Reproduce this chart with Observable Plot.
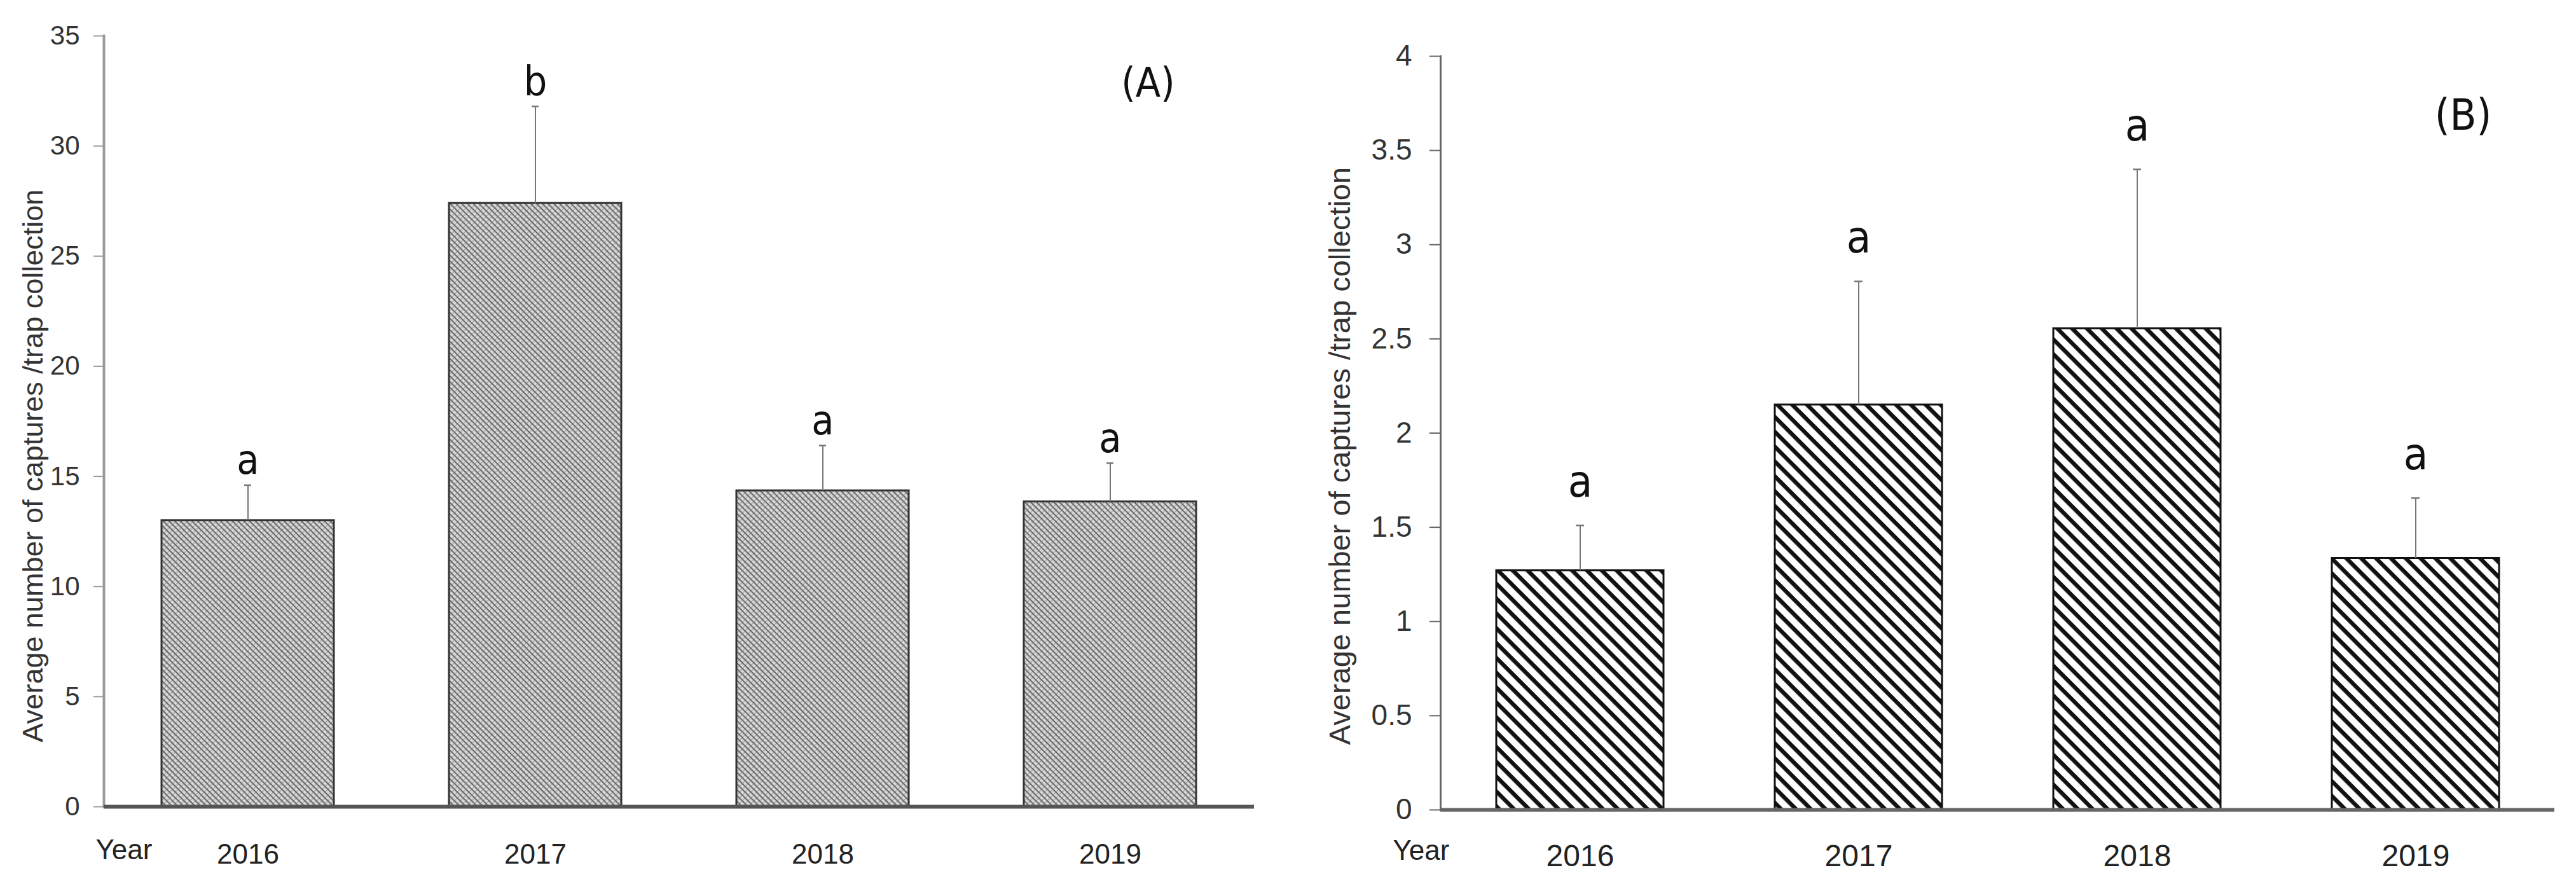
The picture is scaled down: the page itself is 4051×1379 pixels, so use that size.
<!DOCTYPE html>
<html>
<head>
<meta charset="utf-8">
<script src="https://cdn.jsdelivr.net/npm/d3@7"></script>
<script src="https://cdn.jsdelivr.net/npm/@observablehq/plot@0.6"></script>
<style>
  html, body { margin: 0; padding: 0; background: #fff; }
  #wrap { display: flex; width: 4051px; height: 1379px; }
  #wrap svg { display: block; }
</style>
</head>
<body>
<div id="wrap"></div>
<script>
// ---- data ----
const years = ["2016", "2017", "2018", "2019"];
const meanA = [13.0, 27.4, 14.35, 13.85];
const seA = [1.6, 4.4, 2.05, 1.75];
const lettersA = ["a", "b", "a", "a"];
const meanB = [1.27, 2.15, 2.555, 1.335];
const seB = [0.24, 0.655, 0.845, 0.32];
const lettersB = ["a", "a", "a", "a"];
const yTicksA = [0, 5, 10, 15, 20, 25, 30, 35];
const yTicksB = [0, 0.5, 1, 1.5, 2, 2.5, 3, 3.5, 4];
const yTitle = "Average number of captures /trap collection";
const xTitle = "Year";
const panelLabelA = "(A)";
const panelLabelB = "(B)";

const SANS = "'Liberation Sans', Arial, Helvetica, sans-serif";
const NARROW = "'Liberation Sans Narrow', 'Arial Narrow', 'DejaVu Sans Condensed', sans-serif";

function rows(means, ses, letters) {
  return years.map((y, i) => ({year: y, mean: means[i], se: ses[i], top: means[i] + ses[i], letter: letters[i]}));
}

function panel(o) {
  const data = rows(o.means, o.ses, o.letters);
  const svg = Plot.plot({
    width: o.width,
    height: 1379,
    marginLeft: o.marginLeft,
    marginRight: o.marginRight,
    marginTop: o.marginTop,
    marginBottom: o.marginBottom,
    style: {fontFamily: SANS, background: "#fff", overflow: "visible"},
    x: {type: "band", domain: years, paddingInner: 0.4, paddingOuter: 0.2},
    y: {domain: o.domain, nice: false},
    marks: [
      Plot.barY(data, {x: "year", y: "mean", fill: `url(#${o.patternId})`, stroke: o.barStroke, strokeWidth: 3}),
      Plot.ruleX(data, {x: "year", y1: "mean", y2: "top", stroke: "#777", strokeWidth: 2}),
      Plot.tickY(data, {x: "year", y: "top", stroke: "#777", strokeWidth: 2.5, insetLeft: o.capInset, insetRight: o.capInset}),
      Plot.text(data, {x: "year", y: "top", text: "letter", dy: o.letterDy, fontSize: o.letterSize, fontFamily: NARROW, fill: "#111"}),
      Plot.frame({anchor: "left", stroke: o.yAxisColor, strokeWidth: o.yAxisWidth}),
      Plot.ruleY([0], {stroke: o.xAxisColor, strokeWidth: 6}),
      Plot.axisY({ticks: o.ticks, tickFormat: d => `${d}`, tickSize: o.tickSize, tickPadding: o.tickPadding,
        stroke: o.yAxisColor, strokeWidth: 2, fill: "#333", fontSize: o.tickFont, label: null}),
      Plot.axisX({tickSize: 0, tickPadding: o.xPadding, fontSize: o.xFont, fill: "#222", label: null}),
      Plot.text([xTitle], {frameAnchor: "bottom-left", textAnchor: "start", lineAnchor: "middle", dx: o.yearDx, dy: o.yearDy, fontSize: o.yearFont, fill: "#222"}),
      Plot.text([yTitle], {frameAnchor: "left", textAnchor: "middle", lineAnchor: "middle", rotate: -90, dx: o.titleDx, dy: o.titleDy, fontSize: o.titleFont, fill: "#333"}),
      Plot.text([o.panelLabel], {frameAnchor: "top-right", textAnchor: "middle", lineAnchor: "middle", dx: o.panelDx, dy: o.panelDy, fontSize: o.panelFont, fontFamily: NARROW, fill: "#111"})
    ]
  });
  // pattern definitions
  const defs = d3.select(svg).insert("defs", ":first-child");
  o.pattern(defs.append("pattern").attr("id", o.patternId));
  return svg;
}

function crossHatch(p) {
  const s = 6.4;
  p.attr("patternUnits", "userSpaceOnUse").attr("width", s).attr("height", s)
   .attr("patternTransform", "rotate(45)");
  p.append("rect").attr("width", s).attr("height", s).attr("fill", "#d8d8d8");
  p.append("rect").attr("width", 1.2).attr("height", s).attr("fill", "#9e9e9e");
  p.append("rect").attr("width", s).attr("height", 2).attr("fill", "#666");
}

function stripes(p) {
  const s = 16.5;
  p.attr("patternUnits", "userSpaceOnUse").attr("width", s).attr("height", s)
   .attr("patternTransform", "rotate(45)");
  p.append("rect").attr("width", s).attr("height", s).attr("fill", "#fff");
  p.append("rect").attr("width", s).attr("height", 6.5).attr("fill", "#111");
}

const left = panel({
  width: 2000, marginLeft: 163, marginRight: 28, marginTop: 56, marginBottom: 111,
  domain: [0, 35], ticks: yTicksA, means: meanA, ses: seA, letters: lettersA,
  patternId: "hatchA", pattern: crossHatch, barStroke: "#333",
  capInset: 130, letterDy: -38, letterSize: 64,
  yAxisColor: "#999", yAxisWidth: 4, xAxisColor: "#555",
  tickSize: 16, tickPadding: 22, tickFont: 42,
  xPadding: 58, xFont: 44, yearDx: -13, yearDy: 68, yearFont: 44,
  titleDx: -111, titleDy: 70, titleFont: 45,
  panelLabel: panelLabelA, panelDx: -167, panelDy: 75, panelFont: 64
});

const right = panel({
  width: 2051, marginLeft: 265, marginRight: 34, marginTop: 88, marginBottom: 106,
  domain: [0, 4], ticks: yTicksB, means: meanB, ses: seB, letters: lettersB,
  patternId: "hatchB", pattern: stripes, barStroke: "#111",
  capInset: 125, letterDy: -68, letterSize: 70,
  yAxisColor: "#666", yAxisWidth: 3, xAxisColor: "#666",
  tickSize: 17, tickPadding: 28, tickFont: 46,
  xPadding: 54, xFont: 48, yearDx: -75, yearDy: 64, yearFont: 44,
  titleDx: -158, titleDy: 36, titleFont: 47,
  panelLabel: panelLabelB, panelDx: -144, panelDy: 94, panelFont: 68
});

const wrap = document.getElementById("wrap");
wrap.appendChild(left);
wrap.appendChild(right);
</script>
</body>
</html>
